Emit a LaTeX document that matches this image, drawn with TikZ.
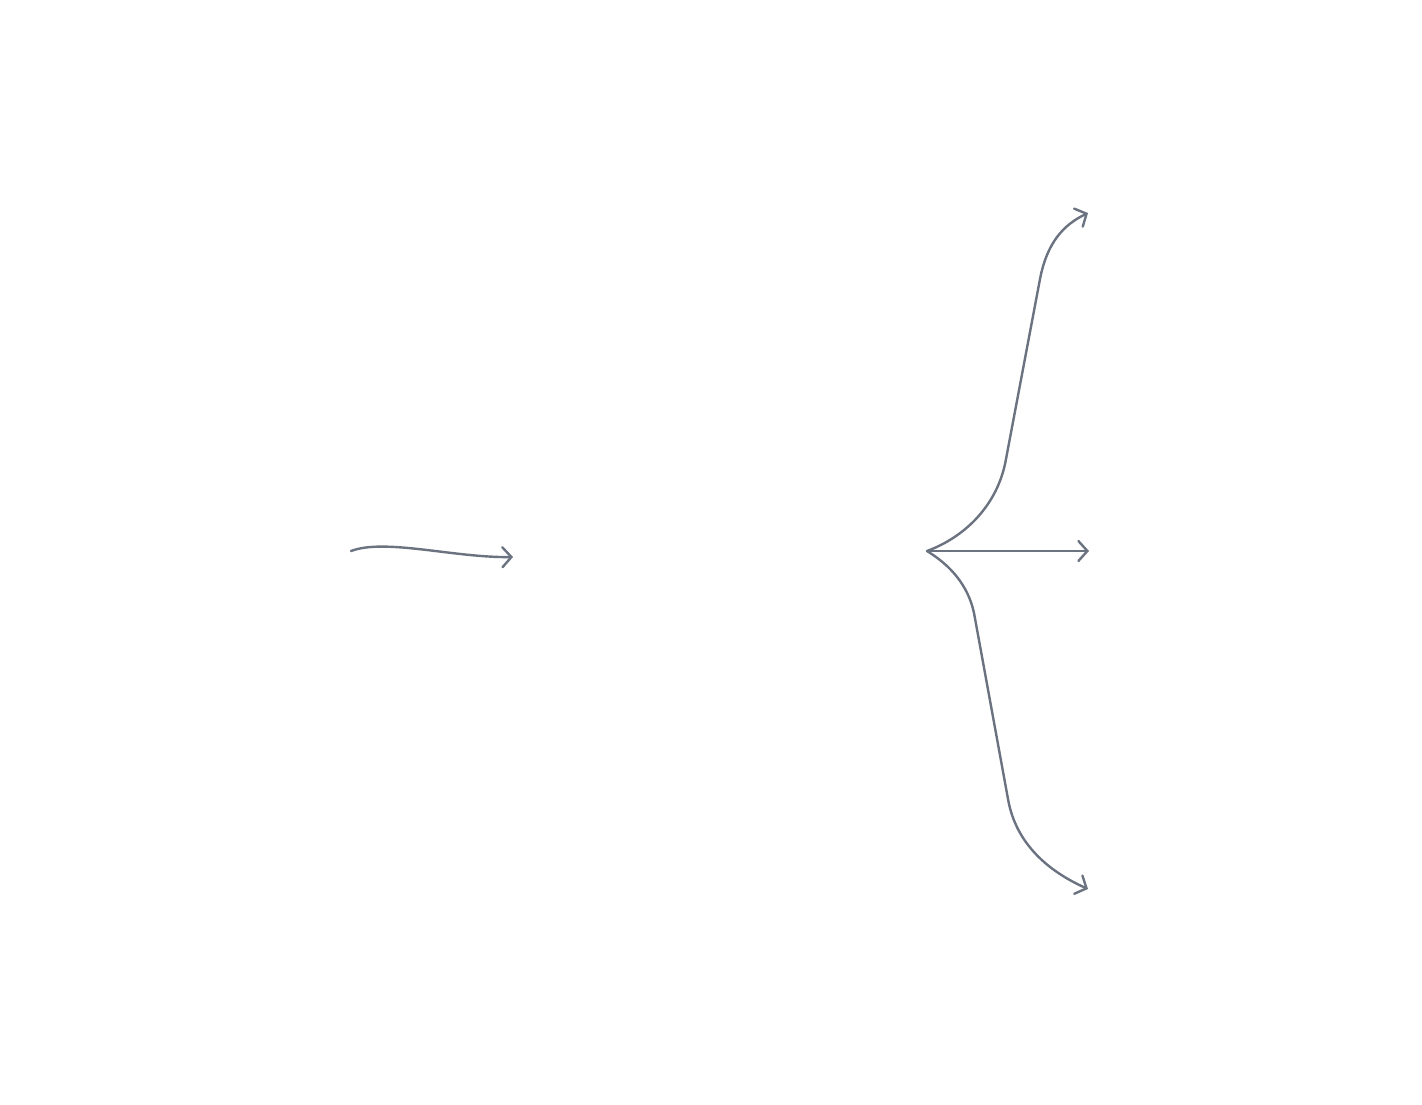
\documentclass[tikz,border=0pt]{standalone}
\usetikzlibrary{arrows.meta}
\definecolor{linegray}{RGB}{107,114,128}
\tikzset{
  conn/.style={draw=linegray, line width=2.4pt, line cap=round, line join=round,
    -{Straight Barb[length=9pt,width=20pt,line cap=round]}}
}
\begin{document}
\begin{tikzpicture}[x=1pt,y=-1pt]
\useasboundingbox (0,0) rectangle (1422,1104);
% named coordinates
\coordinate (ls) at (351,551);
\coordinate (le) at (513,557);
\coordinate (src) at (927,551);
\coordinate (t1) at (1006,459);
\coordinate (t2) at (1040,279);
\coordinate (te) at (1088,213);
\coordinate (me) at (1089,551);
\coordinate (b1) at (974,613);
\coordinate (b2) at (1008,799);
\coordinate (be) at (1088,889);
% left connector
\draw[conn] (ls) .. controls (385,538) and (455,558) .. (le);
% top branch
\draw[conn] (src) .. controls (965,537) and (998,505) .. (t1) -- (t2)
  .. controls (1047,243) and (1063,225) .. (te);
% middle branch
\draw[conn] (src) -- (me);
% bottom branch
\draw[conn] (src) .. controls (950,565) and (968,585) .. (b1) -- (b2)
  .. controls (1016,845) and (1050,872) .. (be);
\end{tikzpicture}
\end{document}
